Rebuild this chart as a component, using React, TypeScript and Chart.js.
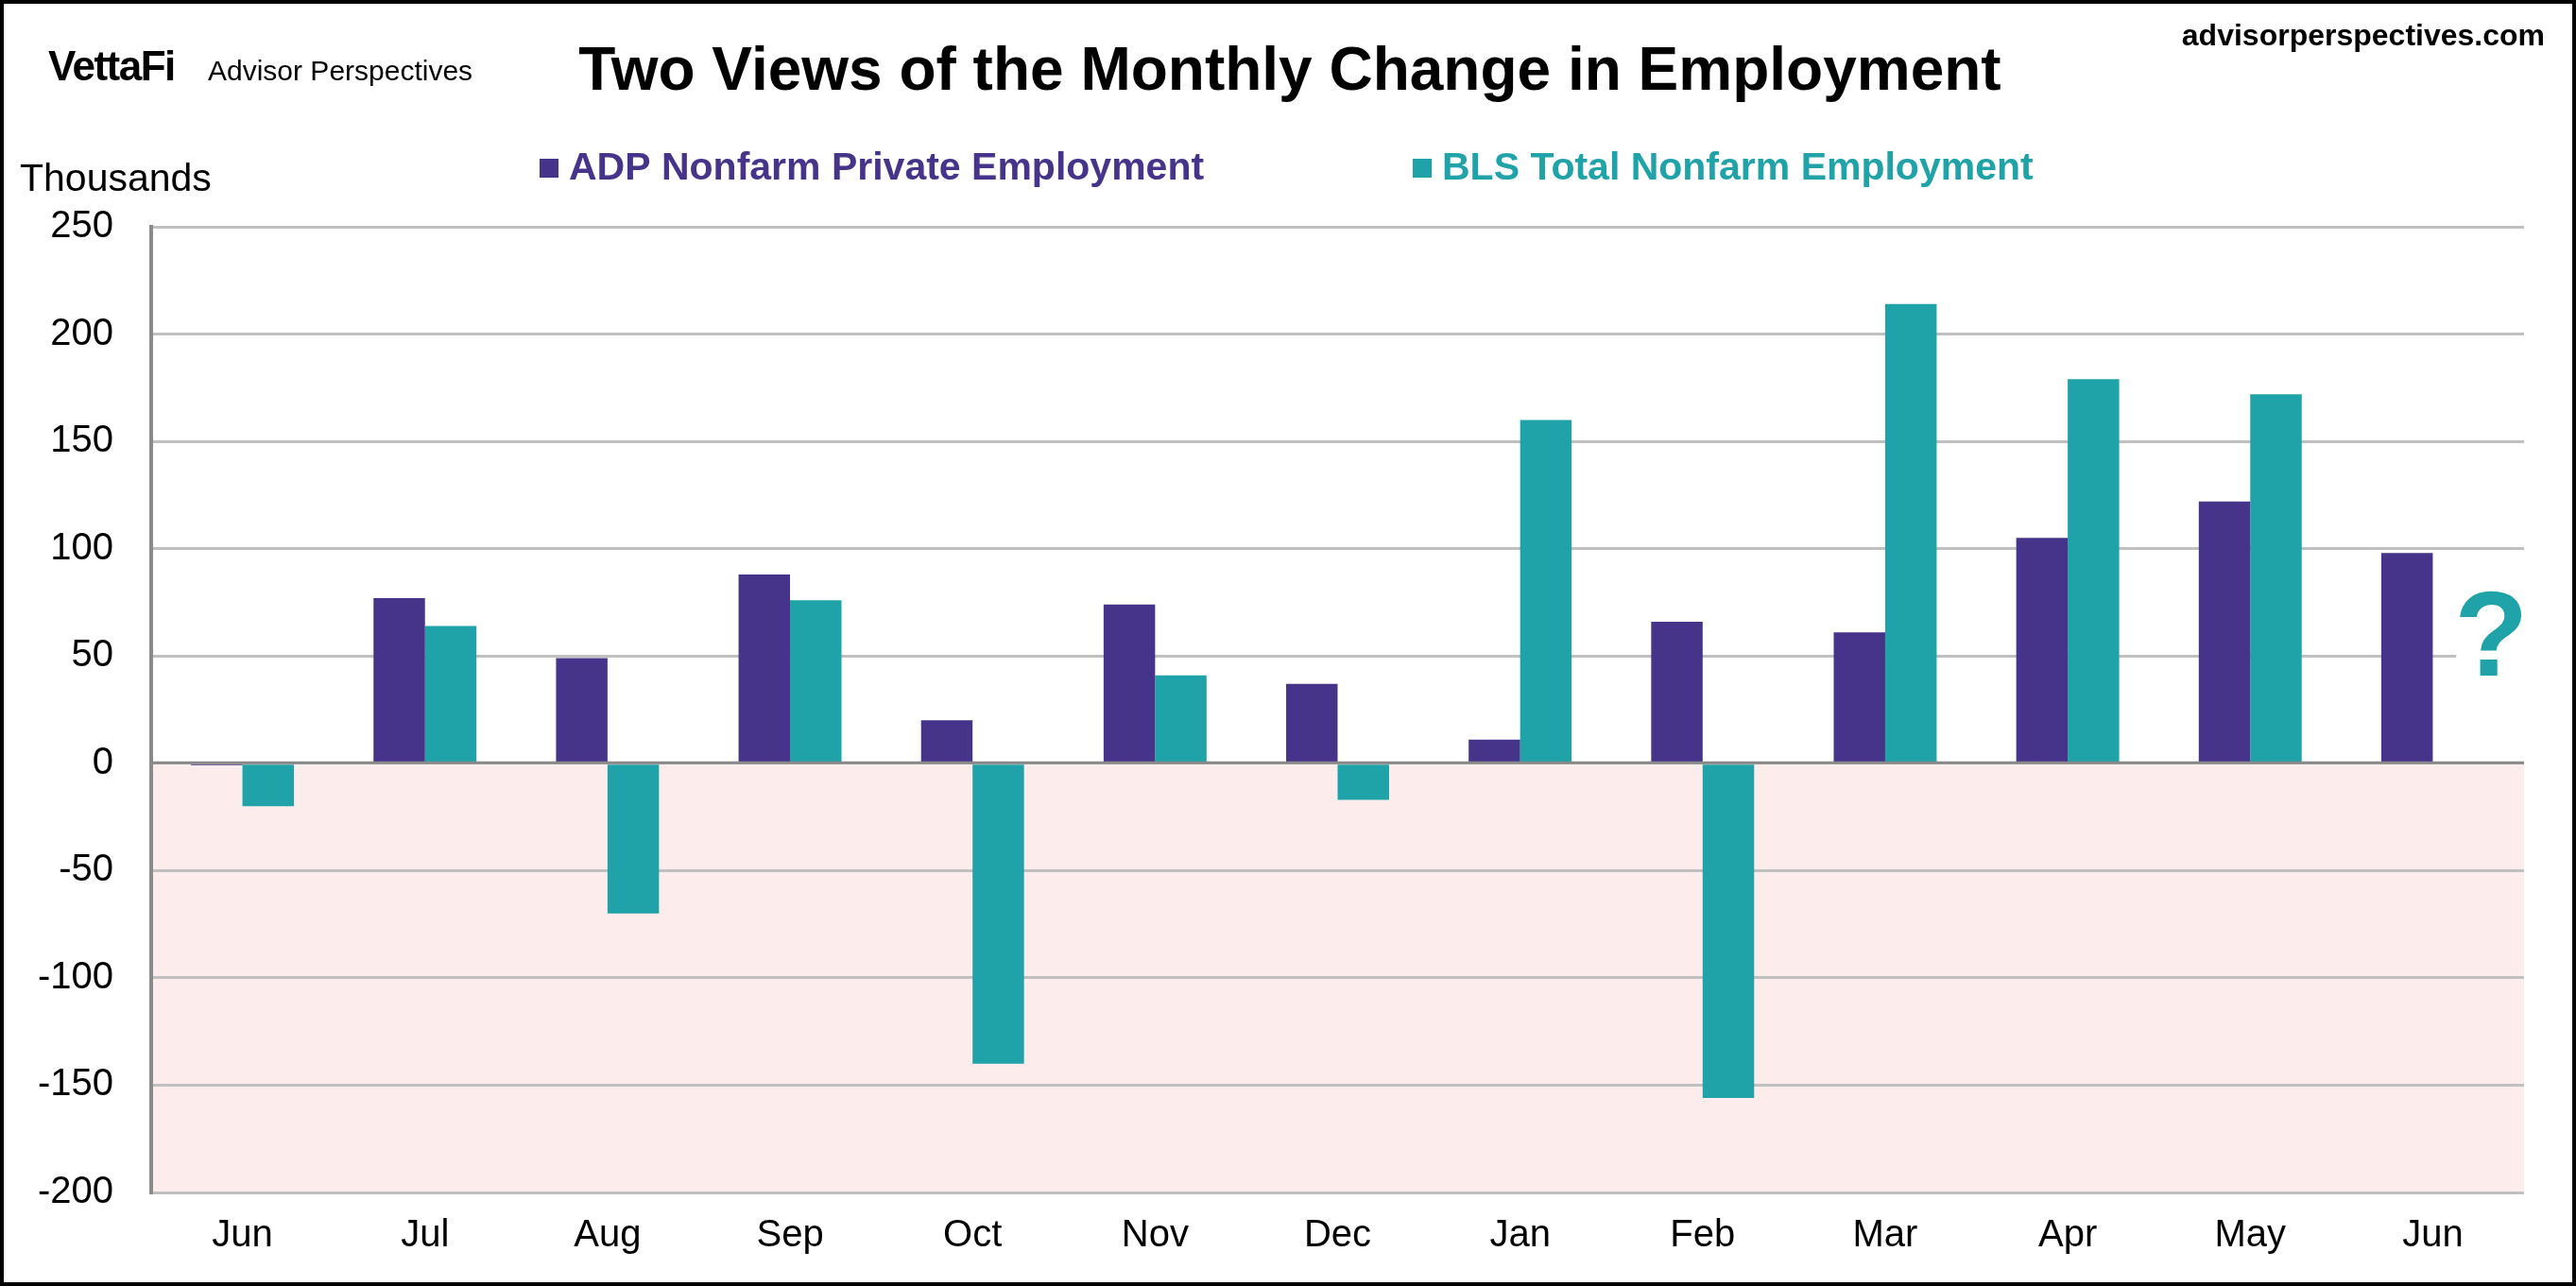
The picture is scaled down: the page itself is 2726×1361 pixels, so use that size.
import { useEffect, useRef } from 'react';
import { Chart, registerables } from 'chart.js';

Chart.register(...registerables);

const months = ['Jun', 'Jul', 'Aug', 'Sep', 'Oct', 'Nov', 'Dec', 'Jan', 'Feb', 'Mar', 'Apr', 'May', 'Jun'];
const adpValues = [-1, 77, 49, 88, 20, 74, 37, 11, 66, 61, 105, 122, 98];
const blsValues: (number | null)[] = [-20, 64, -70, 76, -140, 41, -17, 160, -156, 214, 179, 172, null];
const yTicks = { min: -200, max: 250, step: 50 };

const ADP_COLOR = '#46348a';
const BLS_COLOR = '#1fa3a8';
const FONT = '"Liberation Sans", Arial, sans-serif';

// header texts, legend, shaded negative zone and the "?" marker
const decorPlugin = {
  id: 'decor',
  beforeDraw(chart: any) {
    const { ctx, chartArea, scales } = chart;
    const y0 = scales.y.getPixelForValue(0);
    ctx.save();
    ctx.fillStyle = '#fcecec';
    ctx.fillRect(chartArea.left, y0, chartArea.right - chartArea.left, chartArea.bottom - y0);
    ctx.restore();
  },
  afterDatasetsDraw(chart: any) {
    const { ctx, chartArea, scales } = chart;
    const y0 = scales.y.getPixelForValue(0);
    ctx.save();
    // zero line sits on top of the bars
    ctx.strokeStyle = '#898989';
    ctx.lineWidth = 3;
    ctx.beginPath();
    ctx.moveTo(chartArea.left, y0 - 0.5);
    ctx.lineTo(chartArea.right, y0 - 0.5);
    ctx.stroke();

    // question mark for the missing BLS value
    const last = months.length - 1;
    const catW = (chartArea.right - chartArea.left) / months.length;
    const qx = scales.x.getPixelForValue(last) + catW * 0.32;
    const qBase = scales.y.getPixelForValue(41);
    ctx.font = `bold 128px ${FONT}`;
    ctx.textAlign = 'center';
    ctx.textBaseline = 'alphabetic';
    ctx.fillStyle = '#ffffff';
    ctx.fillRect(qx - 37, qBase - 96, chartArea.right - (qx - 37), 96);
    ctx.fillStyle = BLS_COLOR;
    ctx.fillText('?', qx, qBase);
    ctx.restore();
  },
  afterDraw(chart: any) {
    const { ctx } = chart;
    ctx.save();
    ctx.textBaseline = 'alphabetic';
    ctx.fillStyle = '#000000';

    ctx.textAlign = 'left';
    ctx.font = `bold 44px ${FONT}`;
    ctx.letterSpacing = '-1.5px';
    ctx.fillText('VettaFi', 47, 81);
    ctx.letterSpacing = '0px';
    ctx.font = `30px ${FONT}`;
    ctx.fillText('Advisor Perspectives', 216, 81);

    ctx.textAlign = 'center';
    ctx.font = `bold 64px ${FONT}`;
    ctx.fillText('Two Views of the Monthly Change in Employment', 1361, 91);

    ctx.textAlign = 'right';
    ctx.font = `bold 32px ${FONT}`;
    ctx.fillText('advisorperspectives.com', 2689, 44);

    ctx.textAlign = 'left';
    ctx.font = `41px ${FONT}`;
    ctx.fillText('Thousands', 17, 198);

    // legend
    const legendX = [567, 1491];
    ctx.font = `bold 41px ${FONT}`;
    chart.data.datasets.forEach((ds: any, i: number) => {
      ctx.fillStyle = ds.backgroundColor;
      ctx.fillRect(legendX[i], 164, 20, 20);
      ctx.fillText(ds.label, legendX[i] + 31, 186);
    });
    ctx.restore();
  },
};

export default function App() {
  const canvasRef = useRef<HTMLCanvasElement | null>(null);

  useEffect(() => {
    document.body.style.margin = '0';
    if (!canvasRef.current) return;

    const chart = new Chart(canvasRef.current, {
      type: 'bar',
      data: {
        labels: months,
        datasets: [
          {
            label: 'ADP Nonfarm Private Employment',
            data: adpValues,
            backgroundColor: ADP_COLOR,
          },
          {
            label: 'BLS Total Nonfarm Employment',
            data: blsValues,
            backgroundColor: BLS_COLOR,
          },
        ],
      },
      options: {
        responsive: true,
        maintainAspectRatio: false,
        animation: false,
        datasets: {
          bar: { categoryPercentage: 0.564, barPercentage: 1.0 },
        },
        layout: { padding: { top: 236, right: 51, bottom: 0, left: 0 } },
        plugins: {
          legend: { display: false },
          title: { display: false },
          tooltip: { enabled: false },
        },
        scales: {
          x: {
            grid: { display: false, drawTicks: false },
            border: { display: false },
            ticks: { color: '#000', font: { family: FONT, size: 40 }, padding: 22 },
            afterFit: (scale: any) => {
              scale.height = 95;
            },
          },
          y: {
            min: yTicks.min,
            max: yTicks.max,
            ticks: {
              stepSize: yTicks.step,
              color: '#000',
              font: { family: FONT, size: 40 },
              padding: 40,
            },
            grid: { color: '#c0c0c0', lineWidth: 3, drawTicks: false },
            border: { display: true, color: '#8a8a8a', width: 4 },
            afterFit: (scale: any) => {
              scale.width = 156;
            },
          },
        },
      },
      plugins: [decorPlugin],
    });

    return () => {
      chart.destroy();
    };
  }, []);

  return (
    <div
      style={{
        position: 'relative',
        width: 2726,
        height: 1361,
        boxSizing: 'border-box',
        border: '4px solid #000',
        background: '#fff',
        overflow: 'hidden',
      }}
    >
      <canvas ref={canvasRef}></canvas>
    </div>
  );
}
